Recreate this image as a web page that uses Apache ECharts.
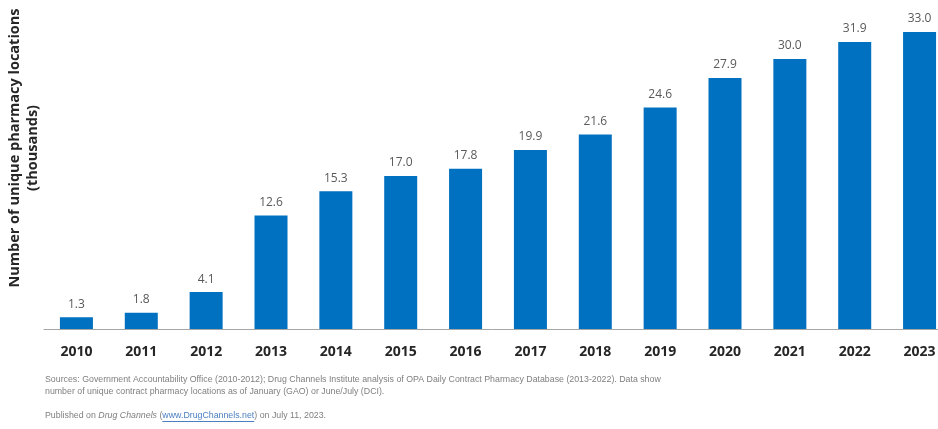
<!DOCTYPE html>
<html>
<head>
<meta charset="utf-8">
<script src="https://cdn.jsdelivr.net/npm/echarts@6/dist/echarts.min.js"></script>
<style>html,body{margin:0;padding:0;background:#fff;}#c{width:938px;height:429px;}</style>
</head>
<body>
<div id="c"></div>
<script>
var categories = ['2010','2011','2012','2013','2014','2015','2016','2017','2018','2019','2020','2021','2022','2023'];
var values = [1.3, 1.8, 4.1, 12.6, 15.3, 17.0, 17.8, 19.9, 21.6, 24.6, 27.9, 30.0, 31.9, 33.0];
var yTitle = ['Number of unique pharmacy locations', '(thousands)'];
var sourceLines = [
  'Sources: Government Accountability Office (2010-2012); Drug Channels Institute analysis of OPA Daily Contract Pharmacy Database (2013-2022). Data show',
  'number of unique contract pharmacy locations as of January (GAO) or June/July (DCI).'
];

var chart = echarts.init(document.getElementById('c'), null, {renderer: 'canvas'});
var footFont = '"Liberation Sans", sans-serif';
var fs = 8.8;

// measure link position for underline
var mctx = document.createElement('canvas').getContext('2d');
mctx.font = fs + 'px ' + footFont;
var w1 = mctx.measureText('Published on ').width;
mctx.font = 'italic ' + fs + 'px ' + footFont;
var w2 = mctx.measureText('Drug Channels').width;
mctx.font = fs + 'px ' + footFont;
var w3 = mctx.measureText(' (').width;
var wl = mctx.measureText('www.DrugChannels.net').width;
var linkX = 45 + w1 + w2 + w3;

chart.setOption({
  animation: false,
  grid: {left: 44, width: 908, top: 32, height: 297, containLabel: false, outerBoundsMode: 'none'},
  xAxis: {
    type: 'category',
    data: categories,
    axisLine: {lineStyle: {color: '#a6a6a6', width: 1}},
    axisTick: {show: false},
    axisLabel: {color: '#262626', fontWeight: 'bold', fontSize: 14, margin: 16, fontFamily: '"Open Sans", sans-serif'}
  },
  yAxis: {
    type: 'value', min: 0, max: 33,
    show: false, splitLine: {show: false}
  },
  series: [{
    type: 'bar',
    data: values,
    barWidth: 33,
    itemStyle: {color: '#0070c0'},
    label: {
      show: true, position: 'top', distance: 7,
      color: '#595959', fontSize: 12, fontFamily: '"Open Sans", sans-serif',
      formatter: function (p) { return p.value.toFixed(1); }
    }
  }],
  graphic: [
    {
      type: 'text',
      x: 24, y: 148,
      rotation: Math.PI / 2,
      style: {
        text: yTitle.join('\n'),
        x: 0, y: 0,
        font: 'bold 14.5px "Open Sans", sans-serif',
        fill: '#262626',
        align: 'center',
        verticalAlign: 'middle',
        lineHeight: 18
      }
    },
    {
      type: 'text', x: 45, y: 374,
      style: {
        text: sourceLines.join('\n'),
        font: fs + 'px ' + footFont,
        fill: '#7f7f7f',
        lineHeight: 12
      }
    },
    {
      type: 'text', x: 45, y: 411,
      style: {
        text: '{a|Published on }{i|Drug Channels}{a| (}{l|www.DrugChannels.net}{a|) on July 11, 2023.}',
        fill: '#7f7f7f',
        font: fs + 'px ' + footFont,
        rich: {
          a: {font: fs + 'px ' + footFont, fill: '#7f7f7f'},
          i: {font: 'italic ' + fs + 'px ' + footFont, fill: '#7f7f7f'},
          l: {font: fs + 'px ' + footFont, fill: '#4a7fc1'}
        }
      }
    },
    {
      type: 'line',
      shape: {x1: linkX, y1: 421.5, x2: linkX + wl, y2: 421.5},
      style: {stroke: '#4a7fc1', lineWidth: 1}
    }
  ]
});
</script>
</body>
</html>
